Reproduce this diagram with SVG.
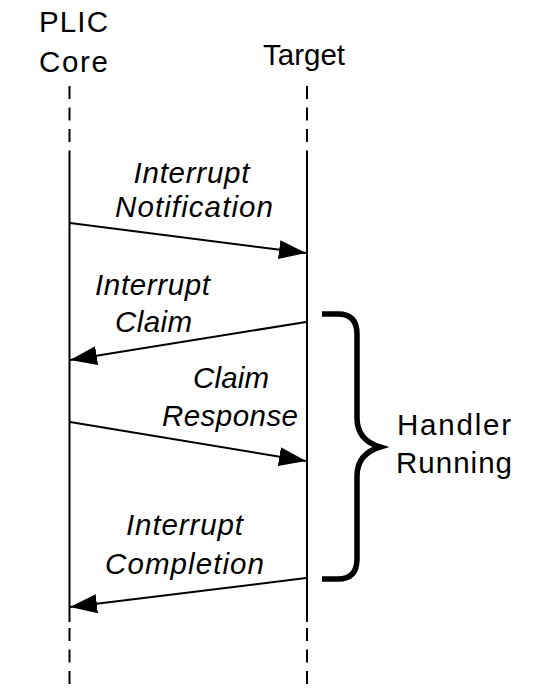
<svg xmlns="http://www.w3.org/2000/svg" width="546" height="690" viewBox="0 0 546 690">
  <style>
    .t { font-family: "Liberation Sans", Arial, sans-serif; font-size: 29.5px; fill: #000; text-anchor: middle; }
    .i { font-style: italic; }
    .life { stroke: #000; stroke-width: 2; fill: none; }
    .dash { stroke: #000; stroke-width: 2; fill: none; stroke-dasharray: 13 8.5; }
    .msg { stroke: #000; stroke-width: 2; fill: none; marker-end: url(#ah); }
    .brace { stroke: #000; stroke-width: 5.5; fill: none; stroke-linejoin: miter; }
  </style>
  <defs>
    <marker id="ah" markerUnits="userSpaceOnUse" markerWidth="28" markerHeight="20" refX="27" refY="9.5" orient="auto">
      <path d="M0,0 L27,9.5 L0,19 Z" fill="#000"/>
    </marker>
  </defs>
  <rect width="546" height="690" fill="#fff"/>

  <g id="plic-core">
    <text class="t" x="73.5" y="32" textLength="69" lengthAdjust="spacing">PLIC</text>
    <text class="t" x="73.5" y="72" textLength="69" lengthAdjust="spacing">Core</text>
    <line class="dash" x1="69.5" y1="86" x2="69.5" y2="151"/>
    <line class="life" x1="69.5" y1="151" x2="69.5" y2="622"/>
    <line class="dash" x1="69.5" y1="628" x2="69.5" y2="690"/>
  </g>

  <g id="target">
    <text class="t" x="304" y="65" textLength="82" lengthAdjust="spacing">Target</text>
    <line class="dash" x1="307" y1="86" x2="307" y2="151"/>
    <line class="life" x1="307" y1="151" x2="307" y2="622"/>
    <line class="dash" x1="307" y1="628" x2="307" y2="690"/>
  </g>

  <g id="connectors">
    <line class="msg" x1="70" y1="223" x2="306" y2="253"/>
    <line class="msg" x1="306" y1="322" x2="70" y2="360"/>
    <line class="msg" x1="70" y1="422" x2="306" y2="461"/>
    <line class="msg" x1="306" y1="578" x2="70" y2="607"/>
  </g>

  <g id="labels">
    <text class="t i" x="191.5" y="183" textLength="116" lengthAdjust="spacing">Interrupt</text>
    <text class="t i" x="194" y="217" textLength="158" lengthAdjust="spacing">Notification</text>
    <text class="t i" x="152.5" y="295" textLength="115" lengthAdjust="spacing">Interrupt</text>
    <text class="t i" x="153.5" y="332" textLength="77" lengthAdjust="spacing">Claim</text>
    <text class="t i" x="231" y="388" textLength="76" lengthAdjust="spacing">Claim</text>
    <text class="t i" x="230" y="426" textLength="136" lengthAdjust="spacing">Response</text>
    <text class="t i" x="184.5" y="535" textLength="117" lengthAdjust="spacing">Interrupt</text>
    <text class="t i" x="184.5" y="574" textLength="159" lengthAdjust="spacing">Completion</text>
  </g>

  <g id="handler">
    <path class="brace" d="M322,314 H338 Q357,314 357,334 V418 Q357,440 380,447 Q357,454 357,476 V559 Q357,579 338,579 H322"/>
    <text class="t" x="454" y="435" textLength="114" lengthAdjust="spacing">Handler</text>
    <text class="t" x="454" y="473" textLength="116" lengthAdjust="spacing">Running</text>
  </g>
</svg>
